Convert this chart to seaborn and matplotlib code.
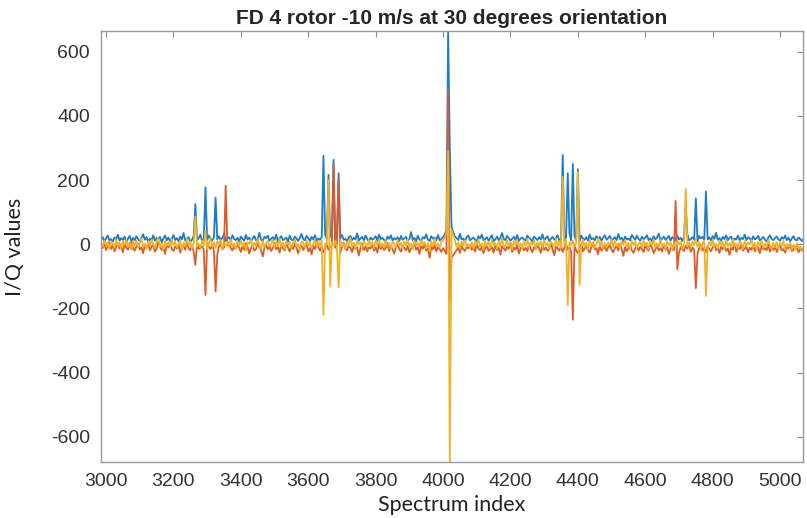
import matplotlib

matplotlib.use("Agg")
import matplotlib.pyplot as plt
import numpy as np
import pandas as pd
import seaborn as sns

# spectrum index runs 2985..5070 in steps of 5
X_START = 2985
X_STEP = 5

# baseline noise (one value per 5 index units)
blue_base = [
    14, 22, 9, 18, 27, 12, 16, 8, 21, 15, 30, 11, 19, 13, 24, 7, 17, 26, 10, 20,
    12, 25, 16, 9, 19, 31, 14, 22, 8, 17, 13, 28, 11, 20, 15, 23, 6, 18, 27, 12,
    21, 10, 16, 29, 13, 19, 9, 24, 15, 35, 11, 18, 22, 8, 14, 26, 17, 12, 20, 30,
    9, 16, 23, 13, 27, 18, 11, 21, 7, 15, 25, 14, 19, 33, 10, 17, 22, 12, 28, 16,
    13, 20, 8, 24, 17, 11, 29, 15, 21, 9, 18, 26, 12, 16, 36, 14, 10, 23, 19, 27,
    11, 17, 22, 14, 30, 9, 19, 25, 13, 16, 21, 8, 27, 15, 12, 24, 18, 10, 20, 32,
    16, 12, 26, 19, 10, 23, 15, 28, 11, 18, 14, 22, 9, 31, 17, 13, 25, 20, 12, 16,
    24, 10, 19, 29, 14, 17, 8, 22, 26, 13, 20, 15, 34, 11, 18, 23, 12, 27, 16, 9,
    21, 14, 18, 25, 11, 30, 16, 20, 13, 9, 24, 17, 28, 12, 19, 15, 22, 10, 26, 14,
    18, 23, 12, 16, 38, 13, 20, 9, 27, 15, 11, 22, 18, 31, 14, 10, 25, 17, 21, 13,
    29, 12, 17, 22, 30, 45, 60, 50, 55, 38, 24, 20, 13, 33, 15, 18, 8, 23, 27, 12,
    17, 21, 14, 10, 25, 18, 30, 13, 16, 22, 11, 19, 28, 9, 15, 24, 12, 20, 35, 16,
    13, 26, 19, 11, 17, 23, 14, 29, 10, 18, 21, 15, 12, 27, 20, 16, 9, 24, 18, 13,
    22, 15, 31, 12, 19, 25, 10, 17, 23, 14, 20, 28, 11, 16, 26, 13, 21, 18, 34, 12,
    16, 24, 13, 20, 9, 27, 18, 14, 22, 11, 30, 15, 19, 12, 25, 17, 23, 10, 21, 28,
    14, 19, 26, 11, 17, 22, 13, 32, 16, 20, 9, 24, 15, 18, 12, 29, 21, 14, 27, 17,
    11, 23, 16, 20, 28, 13, 18, 10, 25, 15, 21, 33, 12, 17, 24, 14, 19, 26, 11, 22,
    18, 13, 27, 15, 20, 10, 24, 17, 31, 12, 16, 22, 14, 19, 9, 26, 18, 23, 13, 29,
    15, 21, 12, 25, 17, 36, 14, 19, 11, 23, 16, 28, 13, 20, 24, 10, 18, 15, 27, 12,
    20, 16, 30, 13, 22, 18, 11, 25, 15, 19, 26, 12, 17, 23, 14, 9, 21, 28, 16, 13,
    19, 24, 15, 11, 22, 17, 27, 13, 20, 9, 18, 25, 14, 12, 21, 16, 10, 17,
]
red_base = [
    -5, -12, 3, -18, -8, 6, -15, -2, -22, -9, 4, -14, -6, -25, 1, -11, -17, -4, 8, -13,
    -20, -7, 2, -16, -10, -28, -3, -12, 5, -19, -8, -1, -23, -14, 7, -6, -18, -11, -30, -4,
    -9, 3, -15, -21, -7, -13, 0, -26, -10, -5, -17, 6, -12, -19, -3, -24, -8, 2, -14, -11,
    -6, -18, -27, 4, -9, -15, -2, -20, -12, -33, -7, 1, -16, -10, -22, -4, 5, -13, -19, -8,
    -14, 0, -11, -24, -6, -17, 3, -9, -29, -12, -5, -20, -15, 2, -8, -18, -38, -10, -3, -16,
    -7, -21, -12, 4, -16, -9, -26, -2, -13, -19, 6, -11, -23, -6, -15, 1, -10, -28, -14, -4,
    -18, -8, -1, -22, -12, -31, -5, -15, 3, -10, -20, -7, -25, -13, 0, -17, -9, -3, -21, -11,
    -2, -16, -27, -8, 5, -14, -19, -6, -11, -24, -3, -15, -9, -35, -12, 2, -18, -7, -22, -10,
    -13, -4, -20, -10, -26, 1, -15, -8, -18, -12, 4, -21, -6, -16, -29, -9, -2, -14, -23, -7,
    -11, -19, -5, -25, -13, -8, 3, -17, -10, -30, -6, -14, -1, -20, -12, -42, -7, -16, -3, -22,
    -9, -15, -24, -12, -20, -30, -28, -60, -40, -35, -26, -18, -11, -27, -5, -16, -21, -8, -13, -2,
    -17, -10, -23, 0, -14, -19, -7, -28, -12, -4, -21, -15, -9, -26, -3, -18, -11, -32, -6, -13,
    -20, -8, -14, 5, -24, -10, -17, -2, -29, -13, -7, -19, -11, -22, 1, -15, -25, -9, -16, -5,
    -12, -27, -3, -18, -10, -21, -14, 4, -16, -34, -8, -13, -20, -6, -24, -11, 0, -17, -9, -23,
    -15, -5, -19, -28, -11, 2, -22, -13, -7, -18, -26, -9, 3, -16, -12, -31, -4, -20, -14, -8,
    -21, -10, -2, -17, -25, -12, -6, -19, 1, -14, -36, -9, -22, -11, -3, -18, -27, -13, -5, -20,
    -8, -16, -24, -4, -13, -20, 2, -11, -28, -15, -7, -19, -12, -23, 0, -17, -9, -30, -14, -6,
    -19, -3, -12, -26, -9, -16, -21, -5, -14, 3, -24, -10, -18, -7, -29, -13, -1, -20, -11, -25,
    -6, -14, -22, -10, 1, -18, -12, -27, -8, -16, -4, -21, -13, -33, -9, -17, 2, -24, -11, -15,
    -3, -20, -13, -7, -25, -11, -17, -2, -22, -14, -9, -28, -5, -16, -12, -19, 0, -23, -10, -18,
    -7, -24, -12, -4, -19, -15, -26, -9, -13, -1, -21, -17, -6, -11, -25, -14, -20, -11,
]
yellow_base = [
    3, -8, 12, -4, 7, -15, 9, 1, -11, 16, -6, 5, -13, 10, -2, 14, -9, 6, -17, 8,
    -3, 11, -10, 4, 18, -7, 2, -14, 9, -5, 13, -1, -12, 7, 20, -8, 3, -16, 10, -4,
    6, -11, 15, -2, 8, -9, 1, 12, -18, 5, -6, 17, -3, 9, -13, 4, 14, -7, 2, -10,
    11, -5, 7, -15, 3, 19, -8, 6, -12, 10, -1, 13, -16, 5, -4, 8, -9, 15, -6, 2,
    -13, 9, -3, 12, -7, 4, -20, 7, 1, 14, -10, 6, -5, 16, -2, -14, 10, -8, 3, 11,
    -6, 2, 13, -11, 8, -4, 17, -9, 5, -15, 10, -1, 7, -12, 4, 15, -7, 1, -18, 9,
    5, -10, 11, -3, 6, -13, 2, 16, -8, 9, -5, 12, -16, 3, -2, 18, -11, 7, -4, 10,
    -9, 4, 14, -6, 1, -12, 8, -3, 19, -7, 5, -14, 11, -1, 6, -17, 9, 2, -10, 13,
    -4, 7, -13, 10, -2, 16, -8, 3, -11, 12, -5, 4, -15, 8, 1, -9, 14, -6, 6, -12,
    9, -3, 15, -7, 2, -16, 11, -4, 5, -10, 13, -1, 7, -13, 4, -22, 10, -6, 17, -5,
    2, -11, 8, 12, 20, 35, 40, 30, 45, 30, 14, -8, 5, -14, 9, -3, 12, -7, 1, -10,
    6, -13, 10, -2, 15, -8, 3, -17, 11, -5, 7, -11, 13, -1, 4, -14, 9, -6, 18, -9,
    -3, 12, -7, 5, -15, 10, -2, 14, -9, 3, -12, 8, -4, 16, -10, 6, -1, 11, -16, 7,
    -5, 9, -11, 13, -3, 4, -14, 8, 1, -8, 17, -6, 10, -12, 2, -4, 15, -10, 6, -2,
    11, -7, 3, -13, 8, -1, 14, -9, 5, -16, 12, -4, 7, -11, 1, 19, -6, 9, -14, 4,
    -8, 6, -2, 15, -10, 10, -5, 3, -13, 9, -1, 13, -7, 4, -17, 11, -3, 8, -12, 2,
    7, -9, 12, -4, 5, -15, 9, -2, 16, -11, 3, -6, 14, -8, 1, -13, 10, -3, 6, -18,
    4, -10, 11, -1, 8, -14, 2, 13, -7, 5, -12, 9, -3, 17, -9, 6, -15, 3, 12, -5,
    -11, 8, -4, 14, -8, 1, -13, 10, -2, 7, -16, 12, -5, 4, -10, 15, -7, 2, -12, 9,
    3, -14, 10, -6, 6, -1, 13, -9, 5, -18, 8, -3, 11, -12, 2, -7, 14, -4, -15, 5,
    -9, 7, -13, 4, -5, 11, -17, 2, -8, 6, -14, -2, -19, 3, -11, -6, -22, -15,
]

# spikes (spectrum index, I/Q value)
blue_spike_x = [3265, 3295, 3325, 3645, 3660, 3675, 3690, 4015, 4020, 4355, 4370, 4385, 4400, 4720, 4750, 4780]
blue_spike_y = [125, 177, 145, 275, 216, 263, 221, 664, 300, 278, 221, 250, 234, 115, 143, 164]
red_spike_x = [3265, 3295, 3325, 3355, 3675, 3690, 4015, 4020, 4385, 4690, 4695, 4750]
red_spike_y = [-64, -158, -147, 182, 250, 205, 480, -180, -235, 135, -78, -137]
yellow_spike_x = [3265, 3295, 3645, 3660, 3665, 3690, 4015, 4020, 4355, 4370, 4400, 4405, 4720, 4780]
yellow_spike_y = [86, 40, -220, 200, -132, -135, 290, -678, 210, -189, 225, -126, 172, -161]

series_names = ["blue", "red", "yellow"]
series_colors = ["#1a7cca", "#e05a28", "#f0b226"]

x_ticks = list(range(3000, 5001, 200))
y_ticks = list(range(-600, 601, 200))


def build_series(base: list, spike_x: list, spike_y: list, name: str) -> pd.DataFrame:
    idx = X_START + X_STEP * np.arange(len(base))
    values = dict(zip(idx.tolist(), base))
    for sx, sy in zip(spike_x, spike_y):
        values[sx] = sy
    return pd.DataFrame({"index": list(values.keys()), "value": list(values.values()), "series": name})


def main() -> None:
    df = pd.concat(
        [
            build_series(blue_base, blue_spike_x, blue_spike_y, "blue"),
            build_series(red_base, red_spike_x, red_spike_y, "red"),
            build_series(yellow_base, yellow_spike_x, yellow_spike_y, "yellow"),
        ],
        ignore_index=True,
    )

    sns.set_style("white")
    plt.rcParams["font.family"] = ["Liberation Sans", "DejaVu Sans"]
    plt.rcParams["axes.unicode_minus"] = False

    fig = plt.figure(figsize=(8.07, 5.18), dpi=100)
    ax = fig.add_axes([101 / 807, 1 - 462 / 518, 702 / 807, 431 / 518])

    sns.lineplot(
        data=df,
        x="index",
        y="value",
        hue="series",
        hue_order=series_names,
        palette=series_colors,
        estimator=None,
        linewidth=1.3,
        legend=False,
        ax=ax,
    )

    ax.set_xlim(2985, 5068)
    ax.set_ylim(-678, 664)
    ax.set_xticks(x_ticks)
    ax.set_yticks(y_ticks)
    ax.tick_params(
        direction="in", top=True, right=True, length=4, width=0.8,
        color="#8a8a8a", labelcolor="#333333", labelsize=14, pad=8,
    )
    for spine in ax.spines.values():
        spine.set_color("#9a9a9a")
        spine.set_linewidth(1.0)

    ax.set_title("FD 4 rotor -10 m/s at 30 degrees orientation", fontsize=15, fontweight="bold", pad=5)
    ax.set_xlabel("Spectrum index", fontsize=15.5, family=["Lato", "DejaVu Sans"], color="#222222")
    ax.set_ylabel("I/Q values", fontsize=15.5, family=["Lato", "DejaVu Sans"], color="#222222")
    ax.xaxis.set_label_coords(0.5, -0.077)
    ax.yaxis.set_label_coords(-0.108, 0.5)

    fig.savefig("out.png", dpi=100, facecolor="white")


if __name__ == "__main__":
    main()
